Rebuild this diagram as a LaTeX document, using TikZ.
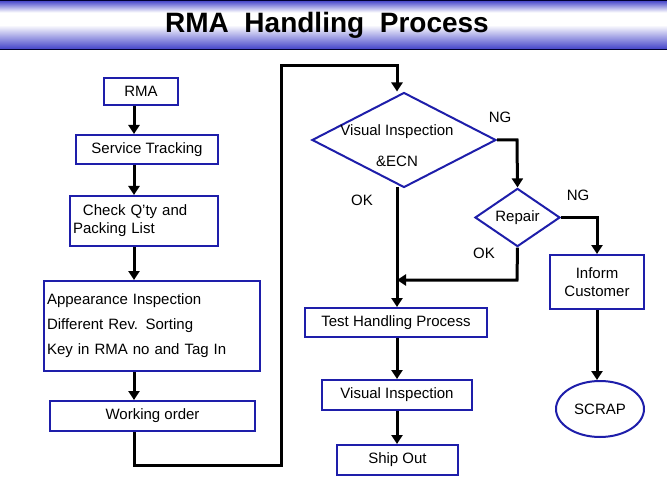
\documentclass[tikz,border=0pt]{standalone}
\usepackage{fontspec}
\setmainfont{Liberation Sans}
\usetikzlibrary{shapes.geometric,arrows.meta}
\definecolor{bx}{RGB}{30,30,170}
\definecolor{tb}{RGB}{60,60,200}
\begin{document}
\begin{tikzpicture}[x=1pt,y=-1pt,
  box/.style={draw=bx,line width=2pt,fill=white,inner sep=0pt,font=\fontsize{15}{18}\selectfont},
  dia/.style={draw=bx,line width=2pt,diamond,inner sep=0pt,font=\fontsize{15}{18}\selectfont},
  lbl/.style={font=\fontsize{15}{18}\selectfont},
  ar/.style={line width=3pt,-{Triangle[length=9pt,width=11pt]}},
  ln/.style={line width=3pt}]
\useasboundingbox (0,0) rectangle (667,500);
\fill[white] (0,0) rectangle (667,500);
\shade[top color=tb,bottom color=white,middle color=white] (0,0) rectangle (667,25);
\shade[top color=white,bottom color=tb] (0,25) rectangle (667,50);
\draw[line width=1.2pt,black!80!blue] (0,0.6) -- (667,0.6) (0,49.4) -- (667,49.4);
\node[font=\bfseries\fontsize{28}{32}\selectfont] (title) at (327,25) {RMA\ \ Handling\ \ Process};
% left column
\node[box,minimum width=74pt,minimum height=27pt] (rma) at (141,91.5) {RMA};
\node[box,minimum width=142pt,minimum height=29pt] (st) at (147,149.5) {Service Tracking};
\node[box,minimum width=148pt,minimum height=50pt,text width=142pt,align=left] (cq) at (144,221) {\ \ Check Q'ty and\\Packing List};
\node[box,minimum width=216pt,minimum height=90pt,text width=210pt,align=left] (ai) at (152,326) {Appearance Inspection\\[7pt]Different Rev. Sorting\\[7pt]Key in RMA no and Tag In};
\node[box,minimum width=205pt,minimum height=30pt] (wo) at (152.5,416) {Working order};
% middle
\node[dia,minimum width=184pt,minimum height=95pt] (vi) at (404,140) {};
\node[lbl] (vit) at (397,132) {Visual Inspection};
\node[lbl] (vie) at (397,161) {\&ECN};
\node[box,minimum width=182pt,minimum height=29pt] (th) at (396,322.5) {Test Handling Process};
\node[box,minimum width=150pt,minimum height=30pt] (v2) at (397,395) {Visual Inspection};
\node[box,minimum width=121pt,minimum height=30pt] (so) at (397.5,460) {Ship Out};
% right
\node[dia,minimum width=85pt,minimum height=51pt] (rp) at (517.5,217.5) {Repair};
\node[box,minimum width=94pt,minimum height=54pt,align=center] (ic) at (597,282) {Inform\\Customer};
\node[draw=bx,line width=2pt,ellipse,minimum width=88pt,minimum height=56pt,font=\fontsize{15}{18}\selectfont] (sc) at (600,409) {SCRAP};
% labels
\node[lbl] (ng1) at (500,117) {NG};
\node[lbl] (ok1) at (362,200) {OK};
\node[lbl] (ng2) at (578,195) {NG};
\node[lbl] (ok2) at (484,253) {OK};
% connectors
\coordinate (lx) at (134,0);
\draw[ar] (rma.south -| lx) -- (st.north -| lx);
\draw[ar] (st.south -| lx) -- (cq.north -| lx);
\draw[ar] (cq.south -| lx) -- (ai.north -| lx);
\draw[ar] (ai.south -| lx) -- (wo.north -| lx);
\coordinate (p1) at (134,465);
\coordinate (p2) at (281,465);
\coordinate (p3) at (281,66);
\coordinate (p4) at (397,66);
\draw[ar] (wo.south -| p1) -- (p1) -- (p2) -- (p3) -- (p4) -- (vi.north -| p4);
\coordinate (vb) at (397,187);
\draw[ar] (vb) -- (th.north -| vb);
\coordinate (r1) at (517,140);
\draw[ar] (vi.east) -- (r1) -- (rp.north);
\coordinate (r2) at (517,280);
\coordinate (r3) at (397,280);
\draw[ar] (rp.south) -- (r2) -- (r3);
\coordinate (c1) at (597,217.5);
\draw[ar] (rp.east) -- (c1) -- (ic.north);
\draw[ar] (ic.south) -- (sc.north -| ic.south);
\draw[ar] (th.south -| v2.north) -- (v2.north);
\draw[ar] (v2.south) -- (so.north -| v2.south);
\end{tikzpicture}
\end{document}
